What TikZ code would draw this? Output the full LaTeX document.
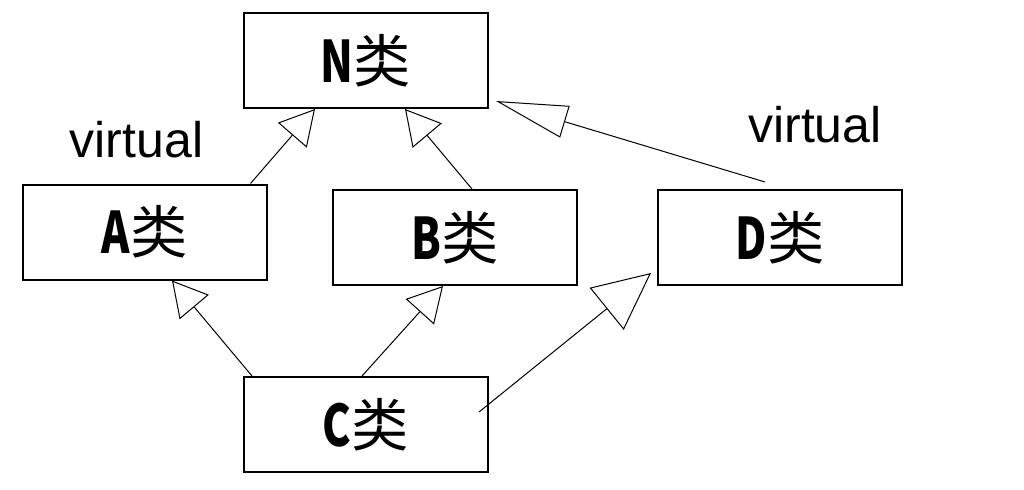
\documentclass[tikz,border=0pt]{standalone}
\usepackage{fontspec}
\usepackage{graphicx}
\setmainfont{Liberation Sans}
\newfontfamily\cjk{Noto Sans CJK SC}
\usetikzlibrary{arrows.meta,calc}
\newcommand\clsname[1]{{\bfseries\scalebox{0.75}[1]{#1}}{\mdseries 类}}
\tikzset{
  cls/.style={draw, line width=1.5pt, minimum width=183pt, minimum height=71.25pt,
    inner sep=0pt, font=\cjk\fontsize{43}{43}\selectfont},
  inh/.style={line width=0.75pt, -{Triangle[open,length=26pt,width=28.5pt]}},
  inhlong/.style={line width=0.75pt, -{Triangle[open,length=54pt,width=24.75pt]}},
  inhbig/.style={line width=0.75pt, -{Triangle[open,length=42.75pt,width=40.5pt]}},
  lbl/.style={font=\fontsize{37.5}{37.5}\selectfont, anchor=base, inner sep=0pt}
}
\begin{document}
\begin{tikzpicture}[x=0.75pt,y=-0.75pt]
\fill[white] (0,0) rectangle (1024,489);
\useasboundingbox (0,0) rectangle (1024,489);
\node[cls] (N) at (366,60.5) {\clsname{N}};
\node[cls] (A) at (144.5,232) {\clsname{A}};
\node[cls] (B) at (455,237.5) {\clsname{B}};
\node[cls] (D) at (780,237.5) {\clsname{D}};
\node[cls] (C) at (366,424.5) {\clsname{C}};
\node[lbl] (v1) at (136.5,157) {virtual};
\node[lbl] (v2) at (815,142) {virtual};
\draw[inh] ($(A.north east)+(-17,0)$) -- ($(N.south)+(-51,0)$);
\draw[inh] ($(B.north)+(17,0)$) -- ($(N.south)+(39,0)$);
\draw[inhlong] ($(D.north)+(-15,-7)$) -- ($(N.south east)+(7,-8)$);
\draw[inh] ($(C.north west)+(9,0)$) -- ($(A.south)+(27.5,0)$);
\draw[inh] ($(C.north)+(-4,0)$) -- ($(B.south)+(-12,0)$);
\draw[inhbig] ($(C.east)+(-10,-12.5)$) -- ($(D.south west)+(-6,-13)$);
\end{tikzpicture}
\end{document}
